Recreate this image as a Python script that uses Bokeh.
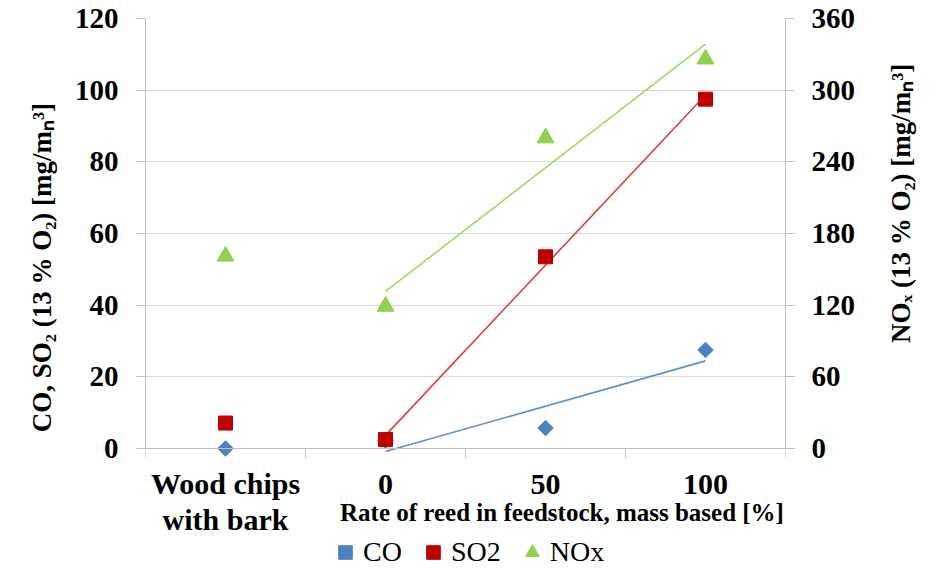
import numpy as np
from math import pi
from bokeh.plotting import figure
from bokeh.models import (Range1d, LinearAxis, FixedTicker, Label, Legend,
                          LegendItem, ColumnDataSource)
from bokeh.embed import file_html
from bokeh.resources import INLINE

# ---------------- data ----------------
categories = ["Wood chips\nwith bark", "0", "50", "100"]
reed_rate = [None, 0, 50, 100]           # numeric reed share for trend lines
co = [0.0, 2.2, 5.7, 27.5]               # mg/mN3, left axis
so2 = [7.1, 2.5, 53.5, 97.5]             # mg/mN3, left axis
nox = [161, 119, 260, 326]               # mg/mN3, right axis
left_ticks = [0, 20, 40, 60, 80, 100, 120]
right_ticks = [0, 60, 120, 180, 240, 300, 360]

left_title = "CO, SO\u2082 (13 % O\u2082) [mg/m\u2099\u00b3]"
right_title = "NO\u2093 (13 % O\u2082) [mg/m\u2099\u00b3]"
x_title = "Rate of reed in feedstock, mass based [%]"

SERIF = "Liberation Serif"
GRID = "#D9D9D9"
AXIS = "#BFBFBF"
BLUE = "#4F81BD"
RED = "#C00000"
GREEN = "#92D050"

# layout (pixels): value area 430 px tall, 121 px of room below the zero line
PLOT_PX = 430
BELOW_PX = 121
y_start = -BELOW_PX / PLOT_PX * left_ticks[-1]
scale_r = right_ticks[-1] / left_ticks[-1]

xpos = [i + 0.5 for i in range(len(categories))]
src = ColumnDataSource(dict(x=xpos, co=co, so2=so2, nox=nox))

p = figure(frame_width=640, frame_height=PLOT_PX + BELOW_PX,
           x_range=Range1d(0, len(categories)),
           y_range=Range1d(y_start, left_ticks[-1]),
           output_backend="svg", toolbar_location=None,
           min_border_left=145, min_border_right=148,
           min_border_top=18, min_border_bottom=0)
p.extra_y_ranges = {"nox": Range1d(y_start * scale_r, right_ticks[-1])}
p.outline_line_color = None
p.background_fill_color = "white"
p.border_fill_color = "white"

# grid
p.xgrid.visible = False
p.ygrid.grid_line_color = GRID
p.ygrid.grid_line_width = 1
p.ygrid.ticker = FixedTicker(ticks=left_ticks)

# left axis
ya = p.yaxis[0]
ya.ticker = FixedTicker(ticks=left_ticks)
ya.bounds = (left_ticks[0], left_ticks[-1])
ya.axis_line_color = AXIS
ya.major_tick_line_color = AXIS
ya.major_tick_in = 0
ya.major_tick_out = 9
ya.minor_tick_line_color = None
ya.major_label_standoff = 18
ya.major_label_text_font = SERIF
ya.major_label_text_font_style = "bold"
ya.major_label_text_font_size = "29px"
ya.major_label_text_color = "black"

# right axis
ra = LinearAxis(y_range_name="nox", ticker=FixedTicker(ticks=right_ticks),
                bounds=(right_ticks[0], right_ticks[-1]))
ra.axis_line_color = AXIS
ra.major_tick_line_color = AXIS
ra.major_tick_in = 0
ra.major_tick_out = 9
ra.minor_tick_line_color = None
ra.major_label_standoff = 17
ra.major_label_text_font = SERIF
ra.major_label_text_font_style = "bold"
ra.major_label_text_font_size = "29px"
ra.major_label_text_color = "black"
p.add_layout(ra, "right")

# x axis on the zero line (category labels at centres, ticks at boundaries)
xa = p.xaxis[0]
xa.fixed_location = 0
xa.ticker = FixedTicker(ticks=xpos, minor_ticks=list(range(len(categories) + 1)))
xa.major_label_overrides = {x: c for x, c in zip(xpos, categories)}
xa.axis_line_color = AXIS
xa.major_tick_line_color = None
xa.major_tick_in = 0
xa.major_tick_out = 0
xa.minor_tick_line_color = AXIS
xa.minor_tick_in = 0
xa.minor_tick_out = 10
xa.major_label_standoff = 8
xa.major_label_text_font = SERIF
xa.major_label_text_font_style = "bold"
xa.major_label_text_font_size = "30px"
xa.major_label_text_color = "black"
xa.major_label_text_line_height = 1.1

# trend lines (least-squares over the reed-rate series)
def trend(vals):
    xs = np.array([r for r in reed_rate if r is not None], dtype=float)
    ys = np.array([v for r, v in zip(reed_rate, vals) if r is not None], dtype=float)
    k, b = np.polyfit(xs, ys, 1)
    return [k * xs[0] + b, k * xs[-1] + b]

tx = [xpos[1], xpos[-1]]
p.line(tx, trend(co), line_color="#5B8FD0", line_width=1.6)
p.line(tx, trend(so2), line_color="#E03A3A", line_width=1.6)
p.line(tx, trend(nox), line_color="#9ED860", line_width=1.6, y_range_name="nox")

r_co = p.scatter("x", "co", source=src, marker="square", angle=pi / 4, size=11,
                 fill_color=BLUE, line_color=BLUE)
r_so2 = p.scatter("x", "so2", source=src, marker="square", size=14,
                  fill_color=RED, line_color=RED)
r_nox = p.scatter("x", "nox", source=src, marker="triangle", size=17,
                  fill_color=GREEN, line_color=GREEN, y_range_name="nox")

legend = Legend(items=[LegendItem(label="CO", renderers=[r_co]),
                       LegendItem(label="SO2", renderers=[r_so2]),
                       LegendItem(label="NOx", renderers=[r_nox])],
                orientation="horizontal", location=(183, 0),
                border_line_color=None, background_fill_alpha=0,
                padding=0, margin=0, spacing=14, label_standoff=1,
                glyph_width=34, glyph_height=34,
                label_text_font=SERIF, label_text_font_size="28px",
                label_text_color="black")
p.add_layout(legend, "center")

# x-axis title inside the (extended) frame
p.add_layout(Label(x=2.603, y=-17.9, text=x_title,
                   text_align="center", text_baseline="middle",
                   text_font=SERIF, text_font_style="bold",
                   text_font_size="25px", text_color="black"))

# y-axis titles as labels placed in the side panels (not clipped to the frame)
p.add_layout(Label(x=-0.644, y=50.5, text=left_title, angle=pi / 2,
                   text_align="center", text_baseline="middle",
                   text_font=SERIF, text_font_style="bold",
                   text_font_size="27px", text_color="black"), "left")
p.add_layout(Label(x=4.72, y=68.4, text=right_title, angle=pi / 2,
                   text_align="center", text_baseline="middle",
                   text_font=SERIF, text_font_style="bold",
                   text_font_size="27px", text_color="black"), "right")

open("out.html", "w").write(file_html(p, INLINE))
